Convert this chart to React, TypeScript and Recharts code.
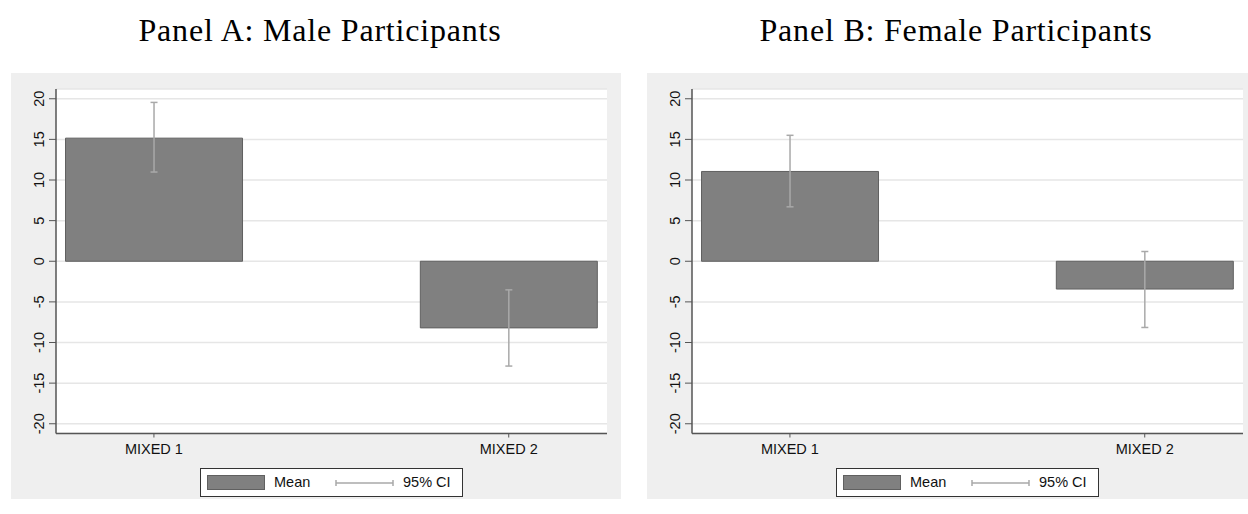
import { BarChart, Bar, XAxis, YAxis, CartesianGrid, ErrorBar } from 'recharts';

const groups = ['MIXED 1', 'MIXED 2'];
const groupPos = [1, 2];

const maleMean = [15.15, -8.2];
const maleCiLow = [10.98, -12.9];
const maleCiHigh = [19.55, -3.52];

const femaleMean = [11.05, -3.42];
const femaleCiLow = [6.7, -8.15];
const femaleCiHigh = [15.5, 1.2];

const yTicks = [-20, -15, -10, -5, 0, 5, 10, 15, 20];

const SANS = '"Liberation Sans", Arial, Helvetica, sans-serif';
const SERIF = '"Liberation Serif", "Times New Roman", serif';
const BAR_FILL = '#808080';
const BAR_EDGE = '#606060';
const CI_COLOR = '#a9a9a9';
const AXIS_COLOR = '#555555';

function buildRows(mean: number[], low: number[], high: number[]) {
  return groups.map((name, i) => ({
    pos: groupPos[i],
    name,
    mean: mean[i],
    err: [mean[i] - low[i], high[i] - mean[i]],
  }));
}

function YTick({ x, y, payload }: any) {
  return (
    <text
      transform={`translate(${x},${y}) rotate(-90)`}
      textAnchor="middle"
      fill="#111"
      fontSize={14.5}
      fontFamily={SANS}
    >
      {payload.value}
    </text>
  );
}

function StataLegend() {
  return (
    <div
      style={{
        position: 'absolute',
        left: 189,
        top: 395,
        width: 263,
        height: 29,
        boxSizing: 'border-box',
        border: '1px solid #333',
        background: '#fff',
        fontFamily: SANS,
        fontSize: 14.5,
        color: '#111',
      }}
    >
      <div
        style={{
          position: 'absolute',
          left: 6,
          top: 6,
          width: 58,
          height: 15,
          boxSizing: 'border-box',
          background: BAR_FILL,
          border: `1px solid ${BAR_EDGE}`,
        }}
      />
      <span style={{ position: 'absolute', left: 73, top: 0, lineHeight: '27px' }}>Mean</span>
      <svg style={{ position: 'absolute', left: 134, top: 8 }} width={60} height={12}>
        <line x1={1} y1={6} x2={58} y2={6} stroke={CI_COLOR} strokeWidth={1.5} />
        <line x1={1} y1={3} x2={1} y2={9} stroke={CI_COLOR} strokeWidth={1.5} />
        <line x1={58} y1={3} x2={58} y2={9} stroke={CI_COLOR} strokeWidth={1.5} />
      </svg>
      <span style={{ position: 'absolute', left: 202, top: 0, lineHeight: '27px' }}>95% CI</span>
    </div>
  );
}

interface PanelProps {
  title: string;
  left: number;
  mean: number[];
  low: number[];
  high: number[];
}

function Panel({ title, left, mean, low, high }: PanelProps) {
  const rows = buildRows(mean, low, high);
  return (
    <>
      <div
        style={{
          position: 'absolute',
          left,
          top: 12,
          width: 618,
          textAlign: 'center',
          fontFamily: SERIF,
          fontSize: 32,
          lineHeight: '36px',
          letterSpacing: 0.8,
          color: '#000',
          whiteSpace: 'nowrap',
        }}
      >
        {title}
      </div>
      <div
        style={{
          position: 'absolute',
          left,
          top: 73,
          width: 610,
          height: 426,
          background: '#efefef',
        }}
      >
        <BarChart
          width={610}
          height={426}
          data={rows}
          margin={{ top: 16, right: 14, bottom: 0, left: 0 }}
        >
          <CartesianGrid
            horizontal
            vertical={false}
            stroke="#e6e6e6"
            strokeWidth={1.5}
            fill="#ffffff"
          />
          <XAxis
            dataKey="pos"
            type="number"
            domain={[0.724, 2.277]}
            ticks={groupPos}
            allowDataOverflow
            tickFormatter={(v: number) => groups[groupPos.indexOf(v)] ?? ''}
            height={65.5}
            tickSize={4}
            tickMargin={6}
            axisLine={{ stroke: AXIS_COLOR, strokeWidth: 1.5 }}
            tickLine={{ stroke: AXIS_COLOR }}
            tick={{ fill: '#111', fontSize: 14.5, fontFamily: SANS }}
          />
          <YAxis
            type="number"
            domain={[-21.2, 21.2]}
            ticks={yTicks}
            interval={0}
            allowDataOverflow
            width={45}
            tickSize={7}
            tickMargin={5}
            axisLine={{ stroke: AXIS_COLOR, strokeWidth: 1.5 }}
            tickLine={{ stroke: AXIS_COLOR }}
            tick={<YTick />}
          />
          <Bar
            dataKey="mean"
            fill={BAR_FILL}
            stroke={BAR_EDGE}
            strokeWidth={1}
            barSize={177}
            isAnimationActive={false}
          >
            <ErrorBar
              dataKey="err"
              direction="y"
              width={3.5}
              stroke={CI_COLOR}
              strokeWidth={1.5}
            />
          </Bar>
        </BarChart>
        <StataLegend />
      </div>
    </>
  );
}

export default function App() {
  return (
    <div
      style={{
        position: 'absolute',
        left: 0,
        top: 0,
        width: 1248,
        height: 514,
        overflow: 'hidden',
        background: '#ffffff',
      }}
    >
      <Panel
        title="Panel A: Male Participants"
        left={11}
        mean={maleMean}
        low={maleCiLow}
        high={maleCiHigh}
      />
      <Panel
        title="Panel B: Female Participants"
        left={647}
        mean={femaleMean}
        low={femaleCiLow}
        high={femaleCiHigh}
      />
    </div>
  );
}
